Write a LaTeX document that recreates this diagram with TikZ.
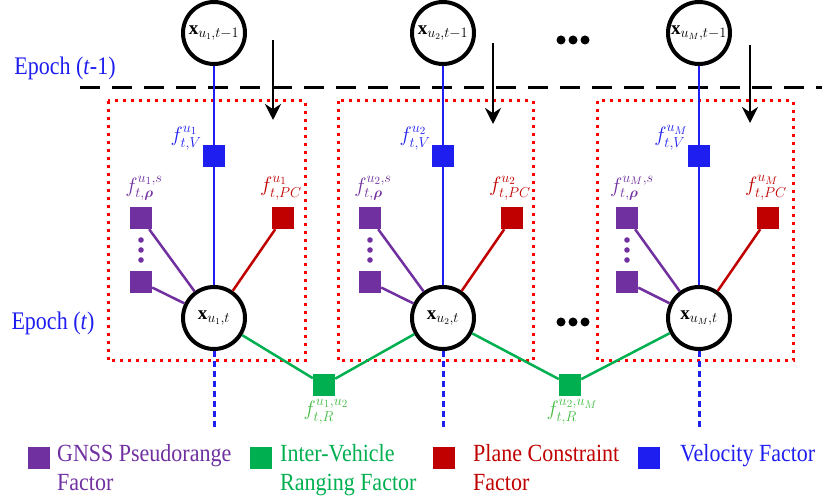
\documentclass[tikz,border=0pt]{standalone}
\usepackage{amsmath}
\usepackage{bm}
\usepackage{fontspec}
\setmainfont{Liberation Serif}
\usetikzlibrary{arrows.meta}

\definecolor{velblue}{RGB}{30,30,240}
\definecolor{prpurple}{RGB}{112,48,160}
\definecolor{pcred}{RGB}{192,0,0}
\definecolor{irgreen}{RGB}{0,176,80}
\definecolor{irlabel}{RGB}{70,190,70}
\definecolor{boxred}{RGB}{255,0,0}

\tikzset{
  state/.style={circle,draw=black,line width=4pt,minimum size=62pt,inner sep=0pt,
    fill=white,font=\fontsize{19}{22}\selectfont},
  fac/.style={rectangle,minimum size=22pt,inner sep=0pt},
  vfac/.style={fac,fill=velblue},
  pfac/.style={fac,fill=prpurple},
  cfac/.style={fac,fill=pcred},
  rfac/.style={fac,fill=irgreen},
  flabel/.style={inner sep=0pt,font=\fontsize{21}{23}\selectfont},
  vline/.style={velblue,line width=2.5pt},
  pline/.style={prpurple,line width=2.5pt},
  cline/.style={pcred,line width=2.5pt},
  rline/.style={irgreen,line width=2.5pt},
  vdots/.style={velblue,line width=3pt,dash pattern=on 6pt off 4pt},
  epochbox/.style={boxred,line width=3pt,dash pattern=on 3pt off 5pt},
  epochtxt/.style={text=velblue,yscale=1.15,transform shape,font=\fontsize{22}{24}\selectfont},
  lgsq/.style={rectangle,minimum size=22pt,inner sep=0pt},
  lgtxt/.style={anchor=north west,align=left,inner sep=0pt,yscale=1.12,transform shape,
    font=\fontsize{22}{26}\selectfont}
}

\begin{document}
\begin{tikzpicture}[x=1pt,y=1pt]
  \useasboundingbox (0,0) rectangle (822,500);
  %% Epoch boxes and separator
  \draw[epochbox] (108,399) rectangle (305,139);
  \draw[epochbox] (338,399) rectangle (533,139);
  \draw[epochbox] (597,399) rectangle (793,139);
  \draw[black,line width=3pt,dash pattern=on 20pt off 12pt] (80,412) -- (822,412);
  \node[epochtxt] (ep1) at (65,432) {Epoch (\textit{t}-1)};
  \node[epochtxt] (ep2) at (53,177) {Epoch (\textit{t})};

  %% States
  \node[state] (x1) at (214,182) {$\mathbf{x}_{u_1,t}$};
  \node[state] (x2) at (443,182) {$\mathbf{x}_{u_2,t}$};
  \node[state] (x3) at (699,182) {$\mathbf{x}_{u_M,t}$};
  \node[state] (p1) at ([shift={(0,285)}]x1) {$\mathbf{x}_{u_1,t-1}$};
  \node[state] (p2) at ([shift={(0,285)}]x2) {$\mathbf{x}_{u_2,t-1}$};
  \node[state] (p3) at ([shift={(0,285)}]x3) {$\mathbf{x}_{u_M,t-1}$};

  %% Vehicle 1
  \node[vfac] (v1) at ([shift={(0,162)}]x1) {};
  \node[pfac] (r1a) at ([shift={(-73,100)}]x1) {};
  \node[pfac] (r1b) at ([shift={(-73,36)}]x1) {};
  \node[cfac] (c1) at ([shift={(69,100)}]x1) {};
  \node[flabel,text=velblue] at ([shift={(-28,18)}]v1) {$f^{u_1}_{t,V}$};
  \node[flabel,text=prpurple] at ([shift={(3,30)}]r1a) {$f^{u_1,s}_{t,\bm{\rho}}$};
  \node[flabel,text=pcred] at ([shift={(-2,30)}]c1) {$f^{u_1}_{t,PC}$};
  \draw[vline] (p1) -- (v1) -- (x1);
  \draw[pline] (r1a) -- (x1);
  \draw[pline] (r1b) -- (x1);
  \draw[cline] (c1) -- (x1);
  \fill[prpurple] ([shift={(0,-22)}]r1a) circle (2.8pt) ([shift={(0,-32)}]r1a) circle (2.8pt) ([shift={(0,-42)}]r1a) circle (2.8pt);

  %% Vehicle 2
  \node[vfac] (v2) at ([shift={(0,162)}]x2) {};
  \node[pfac] (r2a) at ([shift={(-73,100)}]x2) {};
  \node[pfac] (r2b) at ([shift={(-73,36)}]x2) {};
  \node[cfac] (c2) at ([shift={(69,100)}]x2) {};
  \node[flabel,text=velblue] at ([shift={(-28,18)}]v2) {$f^{u_2}_{t,V}$};
  \node[flabel,text=prpurple] at ([shift={(3,30)}]r2a) {$f^{u_2,s}_{t,\bm{\rho}}$};
  \node[flabel,text=pcred] at ([shift={(-2,30)}]c2) {$f^{u_2}_{t,PC}$};
  \draw[vline] (p2) -- (v2) -- (x2);
  \draw[pline] (r2a) -- (x2);
  \draw[pline] (r2b) -- (x2);
  \draw[cline] (c2) -- (x2);
  \fill[prpurple] ([shift={(0,-22)}]r2a) circle (2.8pt) ([shift={(0,-32)}]r2a) circle (2.8pt) ([shift={(0,-42)}]r2a) circle (2.8pt);

  %% Vehicle M
  \node[vfac] (v3) at ([shift={(0,162)}]x3) {};
  \node[pfac] (r3a) at ([shift={(-72,100)}]x3) {};
  \node[pfac] (r3b) at ([shift={(-72,36)}]x3) {};
  \node[cfac] (c3) at ([shift={(69,100)}]x3) {};
  \node[flabel,text=velblue] at ([shift={(-28,18)}]v3) {$f^{u_M}_{t,V}$};
  \node[flabel,text=prpurple] at ([shift={(5,30)}]r3a) {$f^{u_M,s}_{t,\bm{\rho}}$};
  \node[flabel,text=pcred] at ([shift={(-2,30)}]c3) {$f^{u_M}_{t,PC}$};
  \draw[vline] (p3) -- (v3) -- (x3);
  \draw[pline] (r3a) -- (x3);
  \draw[pline] (r3b) -- (x3);
  \draw[cline] (c3) -- (x3);
  \fill[prpurple] ([shift={(0,-22)}]r3a) circle (2.8pt) ([shift={(0,-32)}]r3a) circle (2.8pt) ([shift={(0,-42)}]r3a) circle (2.8pt);

  %% Time arrows
  \coordinate (a1) at (273,460);
  \coordinate (b1) at (273,380);
  \coordinate (a2) at (493,457);
  \coordinate (b2) at (493,376);
  \coordinate (a3) at (750,455);
  \coordinate (b3) at (750,377);
  \draw[-{Stealth[length=16pt,width=16pt]},line width=2.2pt] (a1) -- (b1);
  \draw[-{Stealth[length=16pt,width=16pt]},line width=2.2pt] (a2) -- (b2);
  \draw[-{Stealth[length=16pt,width=16pt]},line width=2.2pt] (a3) -- (b3);

  %% Ranging factors
  \node[rfac] (g1) at (324,115) {};
  \node[rfac] (g2) at (570,115) {};
  \draw[rline] (x1) -- (g1) -- (x2);
  \draw[rline] (x2) -- (g2) -- (x3);
  \node[flabel,text=irlabel] at ([shift={(2,-27)}]g1) {$f^{u_1,u_2}_{t,R}$};
  \node[flabel,text=irlabel] at ([shift={(2,-27)}]g2) {$f^{u_2,u_M}_{t,R}$};

  %% Future epochs
  \coordinate (e1) at (214,70);
  \coordinate (e2) at (443,70);
  \coordinate (e3) at (699,70);
  \draw[vdots] (x1) -- (e1);
  \draw[vdots] (x2) -- (e2);
  \draw[vdots] (x3) -- (e3);

  %% Ellipses
  \fill (561,460) circle (4.5pt) (573,460) circle (4.5pt) (585,460) circle (4.5pt);
  \fill (561,178) circle (4.5pt) (573,178) circle (4.5pt) (585,178) circle (4.5pt);

  %% Legend
  \node[lgsq,fill=prpurple] (lg1) at (39,42) {};
  \node[lgsq,fill=irgreen] (lg2) at (261,42) {};
  \node[lgsq,fill=pcred] (lg3) at (444,42) {};
  \node[lgsq,fill=velblue] (lg4) at (649,42) {};
  \node[lgtxt,text=prpurple] (lt1) at (57,56) {GNSS Pseudorange\\Factor};
  \node[lgtxt,text=irgreen] (lt2) at (280,56) {Inter-Vehicle\\Ranging Factor};
  \node[lgtxt,text=pcred] (lt3) at (473,56) {Plane Constraint\\Factor};
  \node[lgtxt,text=velblue] (lt4) at (680,56) {Velocity Factor};
\end{tikzpicture}
\end{document}
